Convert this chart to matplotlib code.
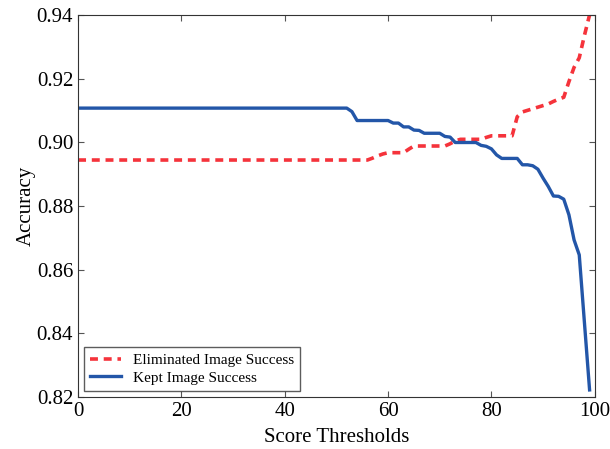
#
# Accuracy vs score threshold: eliminated vs kept images
#
import numpy as np
import matplotlib
matplotlib.use('Agg')
import matplotlib.pyplot as plt

matplotlib.rc('font', family='Liberation Serif', size=15)

# Score thresholds 0..99
thresholds = np.arange(0, 100)

# Kept image success, flat until ~52
kept_tail = [
    0.9107, 0.9096, 0.9068, 0.9068, 0.9068, 0.9068, 0.9068, 0.9068, 0.9068,  # 52-60
    0.9060, 0.9060, 0.9048, 0.9048, 0.9038, 0.9037, 0.9028, 0.9028, 0.9028,  # 61-69
    0.9028, 0.9018, 0.9016, 0.8999, 0.8999, 0.8999, 0.8999, 0.8999, 0.8990,  # 70-78
    0.8987, 0.8979, 0.8960, 0.8949, 0.8949, 0.8949, 0.8949, 0.8929, 0.8929,  # 79-87
    0.8926, 0.8915, 0.8887, 0.8861, 0.8831, 0.8830, 0.8821, 0.8772, 0.8693,  # 88-96
    0.8646, 0.8434, 0.8222,                                                  # 97-99
]
kept = [0.9107] * 52 + kept_tail

# Eliminated image success, flat until ~56
elim_tail = [
    0.8950, 0.8957, 0.8963, 0.8967, 0.8967, 0.8967, 0.8967, 0.8978, 0.8988,  # 57-65
    0.8988, 0.8988, 0.8988, 0.8988, 0.8988, 0.8988, 0.8995, 0.9004, 0.9009,  # 66-74
    0.9009, 0.9009, 0.9009, 0.9009, 0.9015, 0.9020, 0.9020, 0.9020, 0.9020,  # 75-83
    0.9020, 0.9080, 0.9095, 0.9100, 0.9105, 0.9110, 0.9115, 0.9120, 0.9128,  # 84-92
    0.9135, 0.9141, 0.9190, 0.9235, 0.9265, 0.9335, 0.9400,                  # 93-99
]
elim = [0.8944] * 57 + elim_tail

fig = plt.figure(figsize=(6.1, 4.49), dpi=100)
fig.subplots_adjust(0.128, 0.116, 0.975, 0.967)
ax = fig.add_subplot(1, 1, 1)

ax.plot(thresholds, elim, '--', color='#f5333b', lw=2.6, dashes=(2.2, 1.6),
        label='Eliminated Image Success')
ax.plot(thresholds, kept, '-', color='#2356a8', lw=2.4,
        label='Kept Image Success')

ax.set_xlim(0, 100)
ax.set_ylim(0.82, 0.94)
ax.set_xticks([0, 20, 40, 60, 80, 100])
ax.set_yticks([0.82, 0.84, 0.86, 0.88, 0.90, 0.92, 0.94])
ax.set_yticklabels(['0.82', '0.84', '0.86', '0.88', '0.90', '0.92', '0.94'])
ax.set_xlabel('Score Thresholds', labelpad=5)
ax.set_ylabel('Accuracy', labelpad=1)

ax.tick_params(which='both', direction='in', bottom=True, top=True,
               left=True, right=True, length=4, color='#555555')
for s in ax.spines.values():
    s.set_color('#333333')

leg = ax.legend(loc='lower left', fontsize=11, fancybox=False,
                handlelength=2.0, borderaxespad=0.4, labelspacing=0.25)
leg.get_frame().set_edgecolor('#333333')
leg.get_frame().set_linewidth(1.0)

plt.savefig('out.png', dpi=100)
plt.close()
